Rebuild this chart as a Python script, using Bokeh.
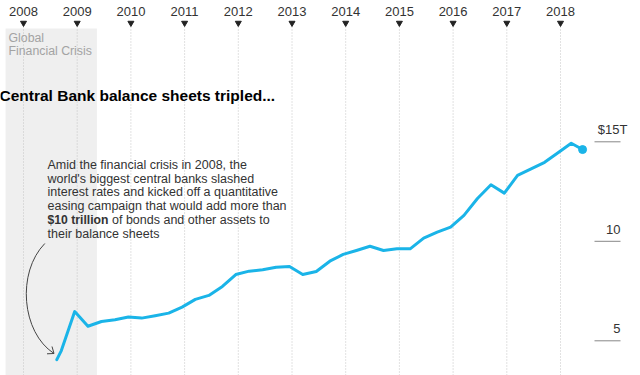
from datetime import date
from bokeh.plotting import figure
from bokeh.models import Label, BoxAnnotation, Range1d
from bokeh.embed import file_html
from bokeh.resources import INLINE

# ---------------- data ----------------
dates = ["2008-08-15", "2008-09-15", "2008-12-15", "2009-03-15", "2009-06-15",
         "2009-09-15", "2009-12-15", "2010-03-15", "2010-06-15", "2010-09-15",
         "2010-12-15", "2011-03-15", "2011-06-15", "2011-09-15", "2011-12-15",
         "2012-03-15", "2012-06-15", "2012-09-15", "2012-12-15", "2013-03-15",
         "2013-06-15", "2013-09-15", "2013-12-15", "2014-03-15", "2014-06-15",
         "2014-09-15", "2014-12-15", "2015-03-15", "2015-06-15", "2015-09-15",
         "2015-12-15", "2016-03-15", "2016-06-15", "2016-09-15", "2016-12-15",
         "2017-03-15", "2017-06-15", "2017-09-15", "2017-12-15", "2018-03-15",
         "2018-05-31"]
balance_trillions = [4.05, 4.51, 6.47, 5.73, 5.97,
                     6.06, 6.20, 6.14, 6.26, 6.39,
                     6.69, 7.08, 7.28, 7.73, 8.33,
                     8.50, 8.57, 8.70, 8.73, 8.33,
                     8.48, 9.00, 9.34, 9.54, 9.75,
                     9.54, 9.62, 9.62, 10.16, 10.46,
                     10.71, 11.30, 12.15, 12.84, 12.42,
                     13.31, 13.64, 13.97, 14.45, 14.93,
                     14.61]
years = list(range(2008, 2019))
year_labels = [str(y) for y in years]
y_ticks = [5, 10, 15]
y_tick_labels = ["5", "10", "$15T"]
crisis_period = ["2007-09-01", "2009-05-15"]
crisis_label = ["Global", "Financial Crisis"]
title_text = "Central Bank balance sheets tripled..."
note_lines = ["Amid the financial crisis in 2008, the",
              "world's biggest central banks slashed",
              "interest rates and kicked off a quantitative",
              "easing campaign that would add more than"]
note_bold = "$10 trillion"
note_after_bold = "of bonds and other assets to"
note_last = "their balance sheets"


def dec_year(s):
    d = date.fromisoformat(s)
    start = date(d.year, 1, 1)
    days = (date(d.year + 1, 1, 1) - start).days
    return d.year + (d - start).days / days


xs = [dec_year(s) for s in dates]

# ---------------- layout helpers (pixel -> data) ----------------
W, H = 640, 375
PX_PER_YEAR = 53.7
X_ORIGIN = 2008 - 23 / PX_PER_YEAR
PX_PER_T = 19.9
Y_TOP = 5 + 340.3 / PX_PER_T
TXT_SHIFT = 5  # renderer baseline correction (px)


def xd(px):
    return X_ORIGIN + px / PX_PER_YEAR


def yd(py):
    return Y_TOP - py / PX_PER_T


def yt(py):
    return yd(py - TXT_SHIFT)


FONT = "Liberation Sans"
LINE_COLOR = "#1ab4e8"

p = figure(width=W, height=H, output_backend="svg", toolbar_location=None,
           x_range=Range1d(xd(0), xd(W)), y_range=Range1d(yd(H), yd(0)),
           x_axis_location=None, y_axis_location=None, min_border=0,
           outline_line_color=None, background_fill_color="white",
           border_fill_color="white")
p.xgrid.visible = False
p.ygrid.visible = False

# crisis shading
p.add_layout(BoxAnnotation(left=dec_year(crisis_period[0]), right=dec_year(crisis_period[1]),
                           top=yd(28), fill_color="#efefef", fill_alpha=1.0,
                           line_color=None, level="underlay"))

# year gridlines, markers and labels
p.segment(x0=years, y0=[yd(26)] * len(years), x1=years, y1=[yd(H)] * len(years),
          line_color="#c4c4c4", line_width=1, line_dash="1 2")
p.scatter(x=years, y=[yd(22.5)] * len(years), marker="inverted_triangle", size=6,
          fill_color="#222222", line_color="#222222")
p.text(x=years, y=[yt(16)] * len(years), text=year_labels, text_align="center",
       text_baseline="alphabetic", text_font_size="13px", text_color="#333333",
       text_font={"value": FONT})

# crisis label
for i, t in enumerate(crisis_label):
    p.add_layout(Label(x=xd(8), y=yt(42 + 13.5 * i), text=t, text_font=FONT,
                       text_font_size="12.3px", text_color="#a3a3a3",
                       text_baseline="alphabetic", text_align="left"))

# title
p.add_layout(Label(x=xd(-1), y=yt(99.5), text=title_text, text_font=FONT,
                   text_font_size="15.5px", text_font_style="bold",
                   text_color="#000000", text_baseline="alphabetic"))

# y tick lines and labels
for v, lab in zip(y_ticks, y_tick_labels):
    p.segment(x0=[xd(594)], y0=[v], x1=[xd(620)], y1=[v], line_color="#888888", line_width=1)
    right = 627 if lab.endswith("T") else 620
    p.add_layout(Label(x=xd(right), y=v + (7 + TXT_SHIFT) / PX_PER_T, text=lab,
                       text_font=FONT, text_font_size="13px", text_color="#333333",
                       text_align="right", text_baseline="alphabetic"))

# annotation text
NOTE_X = 47
BASE = 169.3
LH = 13.8
NOTE_KW = dict(text_font=FONT, text_font_size="12.5px", text_color="#333333",
               text_baseline="alphabetic", text_align="left")
for i, t in enumerate(note_lines):
    p.add_layout(Label(x=xd(NOTE_X), y=yt(BASE + LH * i), text=t, **NOTE_KW))
p.add_layout(Label(x=xd(NOTE_X), y=yt(BASE + LH * 4), text=note_bold,
                   text_font_style="bold", **dict(NOTE_KW, text_font_size="12.2px")))
p.add_layout(Label(x=xd(111.5), y=yt(BASE + LH * 4), text=note_after_bold, **NOTE_KW))
p.add_layout(Label(x=xd(NOTE_X), y=yt(BASE + LH * 5), text=note_last, **NOTE_KW))

# curved arrow
p.bezier(x0=[xd(44.3)], y0=[yd(243)], x1=[xd(53.5)], y1=[yd(353)],
         cx0=[xd(16)], cy0=[yd(272)], cx1=[xd(21)], cy1=[yd(332)],
         line_color="#444444", line_width=1)
p.multi_line(xs=[[xd(46.5), xd(53.5), xd(51.5)]], ys=[[yd(353.3), yd(353), yd(346)]],
             line_color="#444444", line_width=1)

# main series
p.line(x=xs, y=balance_trillions, line_color=LINE_COLOR, line_width=3,
       line_join="round", line_cap="round")
p.scatter(x=[xs[-1]], y=[balance_trillions[-1]], size=8, fill_color=LINE_COLOR,
          line_color=LINE_COLOR)

open("out.html", "w").write(file_html(p, INLINE))
